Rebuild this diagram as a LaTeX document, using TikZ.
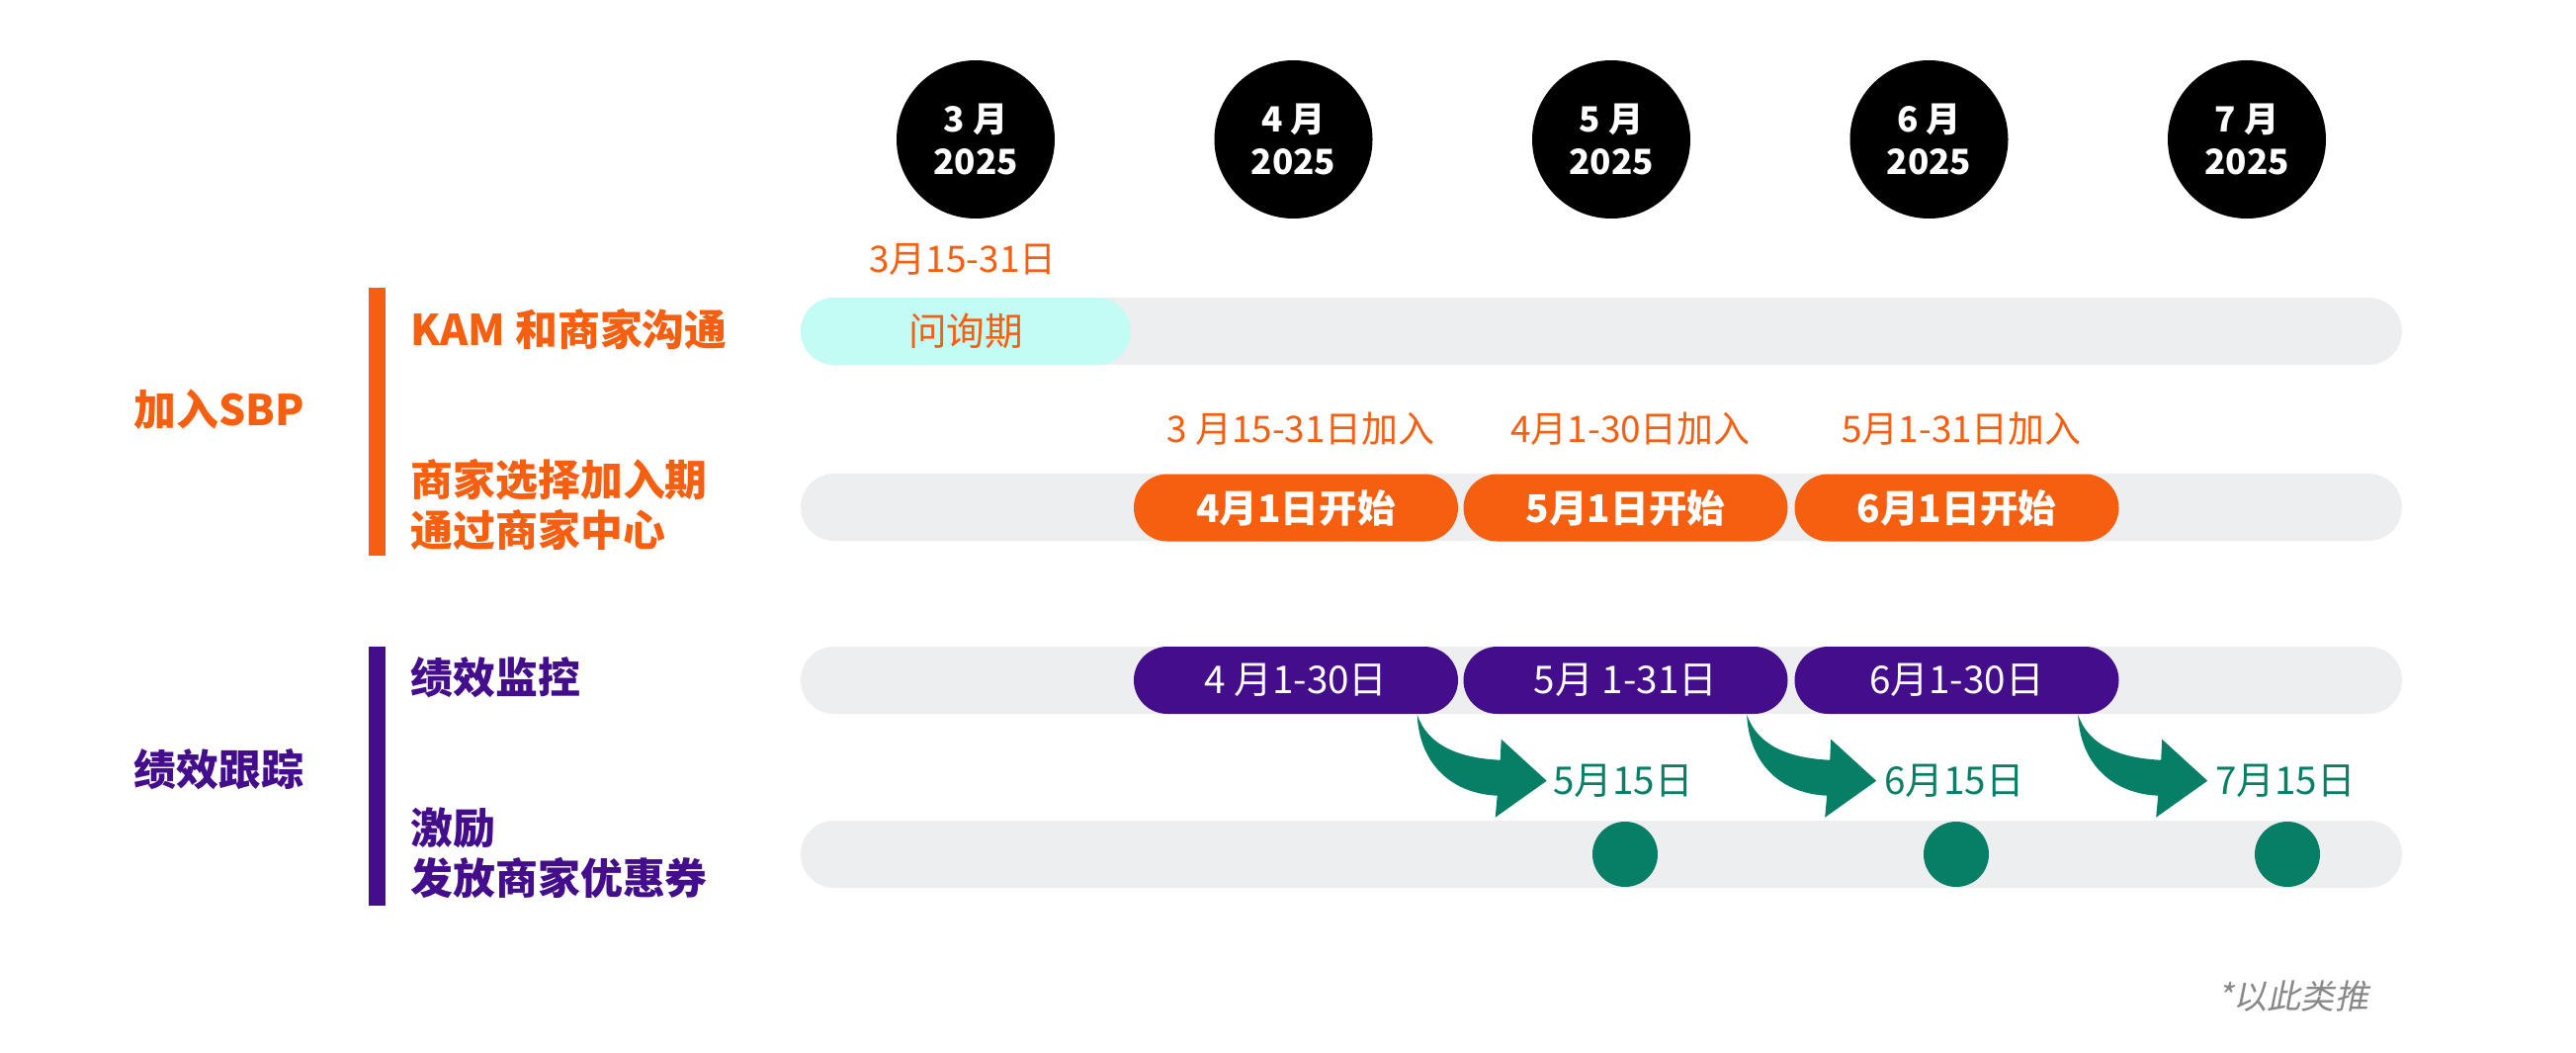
\documentclass[tikz,border=0pt]{standalone}
\usepackage{fontspec}
\setmainfont{Noto Sans CJK SC}
\newfontfamily\slantfont[FakeSlant=0.2]{Noto Sans CJK SC}
\usepackage{xcolor}
\usetikzlibrary{calc, positioning}
\definecolor{sbporange}{HTML}{F65E10}
\definecolor{kpipurple}{HTML}{430D8C}
\definecolor{flowgreen}{HTML}{077F66}
\definecolor{inqcyan}{HTML}{C3FCF4}
\definecolor{trackgray}{HTML}{EDEEF0}
\definecolor{notegray}{HTML}{888888}

\begin{document}
\begin{tikzpicture}[
    month/.style={circle, fill=black, minimum size=1.6cm, inner sep=0pt, text=white, align=center, font=\bfseries\fontsize{10}{12.3}\selectfont},
    track/.style={rounded corners=0.34cm, fill=trackgray, minimum width=16.2cm, minimum height=0.68cm, inner sep=0pt},
    pill/.style={rounded corners=0.34cm, minimum width=3.28cm, minimum height=0.68cm, inner sep=0pt, text=white, font=\fontsize{11}{13}\selectfont},
    heading/.style={anchor=west, inner sep=0pt, align=left, font=\bfseries\fontsize{12.2}{14.5}\selectfont},
    small/.style={inner sep=0pt, text=sbporange, font=\fontsize{10.5}{12}\selectfont},
    dot/.style={circle, fill=flowgreen, minimum size=0.66cm, inner sep=0pt}
]
    \fill[white] (0,0) rectangle (26.06,10.64);
    % months
    \foreach \m [count=\i from 0] in {3,...,7}
        \node[month] (m\m) at (9.87+3.215*\i, 9.23) {\m\ 月\\2025};
    % grey tracks
    \foreach \r/\y in {1/7.29, 2/5.51, 3/3.76, 4/2.00}
        \node[track] (t\r) at (16.2,\y) {};

    % left labels
    \fill[sbporange] (3.73,5.02) rectangle (3.90,7.73);
    \fill[kpipurple] (3.73,1.48) rectangle (3.90,4.10);
    \node[heading, text=sbporange] (join) at (1.35,6.50) {加入SBP};
    \node[heading, text=sbporange] (kam) at (4.15,7.31) {KAM 和商家沟通};
    \node[heading, text=sbporange] (optin) at (4.15,5.535) {商家选择加入期\\通过商家中心};
    \node[heading, text=kpipurple] (track) at (1.35,2.86) {绩效跟踪};
    \node[heading, text=kpipurple] (monitor) at (4.15,3.79) {绩效监控};
    \node[heading, text=kpipurple] (reward) at (4.15,2.015) {激励\\发放商家优惠券};

    % inquiry period
    \node[pill, fill=inqcyan, minimum width=3.34cm, text=sbporange] (q) at (9.77,7.29) {问询期};
    \node[small] (qdate) at (9.74,8.02) {3月15-31日};

    % opt-in windows
    \foreach \m/\x/\txt in {4/13.11/3 月15-31日加入, 5/16.445/4月1-30日加入, 6/19.795/5月1-31日加入} {
        \node[pill, fill=sbporange, font=\bfseries\fontsize{11}{13}\selectfont] (o\m) at (\x,5.505) {\m{}月1日开始};
        \node[small] (j\m) at ($(o\m)+(0.05,0.795)$) {\txt};
    }

    % monitoring windows
    \foreach \m/\x/\txt in {4/13.11/4 月1-30日, 5/16.445/5月 1-31日, 6/19.795/6月1-30日}
        \node[pill, fill=kpipurple] (p\m) at (\x,3.76) {\txt};

    % vouchers
    \foreach \m/\x in {5/16.44, 6/19.79, 7/23.14} {
        \node[dot] (d\m) at (\x,2.00) {};
        \node[inner sep=0pt, text=flowgreen, font=\fontsize{11}{13}\selectfont] (v\m) at (\x-0.02,2.74) {\m{}月15日};
    }
    \foreach \p in {p4,p5,p6} {
        \begin{scope}[shift={($(\p.south east)+(-0.42,0)$)}]
            \fill[flowgreen] (0,0) .. controls (0.10,-0.30) and (0.40,-0.44) .. (0.84,-0.46)
                -- (0.85,-0.25) -- (1.31,-0.67) -- (0.79,-1.04) -- (0.81,-0.82)
                .. controls (0.35,-0.80) and (0.02,-0.50) .. cycle;
        \end{scope}
    }

    \node[inner sep=0pt, text=notegray, font=\slantfont\fontsize{9.7}{12}\selectfont] (note) at (23.20,0.56) {*以此类推};
\end{tikzpicture}
\end{document}
